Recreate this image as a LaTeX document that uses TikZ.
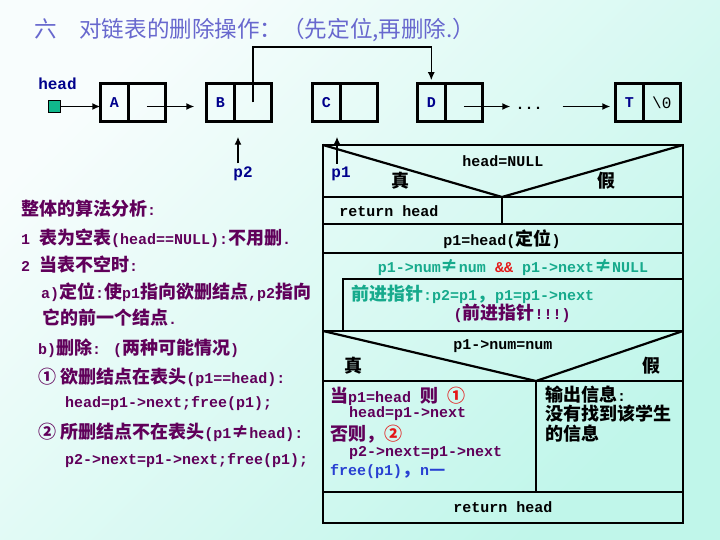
\documentclass[tikz,border=0pt]{standalone}
\usepackage{fontspec}
\setmainfont{Liberation Mono}
\newfontfamily\cjk[Scale=1.2]{Noto Sans CJK SC}
\usepackage{xcolor}
\definecolor{bgA}{RGB}{248,253,253}
\definecolor{bgB}{RGB}{192,246,234}
\definecolor{titleblue}{RGB}{104,104,206}
\definecolor{notepurple}{RGB}{96,0,90}
\definecolor{labelblue}{RGB}{0,0,140}
\definecolor{headgreen}{RGB}{16,184,140}
\definecolor{loopteal}{RGB}{22,170,140}
\definecolor{warnred}{RGB}{228,24,24}
\definecolor{freeblue}{RGB}{40,64,210}
\usetikzlibrary{arrows.meta,positioning}
\newcommand\basefont{\fontsize{15}{18}\selectfont}

\begin{document}
\begin{tikzpicture}[
  x=1pt, y=-1pt,
  font=\basefont,
  >={Latex[length=8pt,width=7pt]},
  datcell/.style={draw, line width=2.6pt, outer sep=0pt, inner sep=0pt, minimum width=28pt, minimum height=38.5pt, text=labelblue, font=\basefont\bfseries},
  ptrcell/.style={draw, line width=2.6pt, outer sep=0pt, inner sep=0pt, minimum width=37pt, minimum height=38.5pt, font=\fontsize{16}{18}\selectfont},
  arr/.style={->, line width=1.4pt},
  ptrlbl/.style={text=labelblue, font=\fontsize{16}{18}\selectfont\bfseries},
  note/.style={anchor=west, inner sep=0pt, text=notepurple, font=\basefont\bfseries},
  ns/.style={line width=2.2pt},
  nstext/.style={inner sep=0pt, font=\basefont\bfseries},
  nsline/.style={anchor=west, inner sep=0pt, font=\basefont\bfseries}
]
% background
\shade[top color=bgA, bottom color=bgB, shading angle=45] (0,0) rectangle (720,540);
\useasboundingbox (0,0) rectangle (720,540);

\node[anchor=west, inner sep=0pt, text=titleblue, font=\fontsize{18.8}{20}\selectfont] (title) at (34,30) {\cjk 六\quad 对链表的删除操作：（先定位,再删除.）};

% linked list
\node[draw, fill=headgreen, minimum size=12pt, inner sep=0pt, line width=0.8pt] (hd) at (54,106.5) {};
\node[ptrlbl] (hdlbl) at (57.5,84) {head};

\node[datcell] (A) at (114.3,102.5) {A};
\node[ptrcell, right=0pt of A] (An) {};
\node[datcell] (B) at (220.3,102.5) {B};
\node[ptrcell, right=0pt of B] (Bn) {};
\node[datcell] (C) at (326.3,102.5) {C};
\node[ptrcell, right=0pt of C] (Cn) {};
\node[datcell] (D) at (431.3,102.5) {D};
\node[ptrcell, right=0pt of D] (Dn) {};
\node[font=\basefont\bfseries, text height=10pt, text depth=3pt, inner sep=0pt] (dots) at (529,106.5) {...};
\node[datcell] (T) at (629.3,102.5) {T};
\node[ptrcell, right=0pt of T] (Tn) {\textbackslash 0};

\draw[arr] (hd) -- (hd -| A.west);
\draw[arr, shorten >=12pt] ([yshift=-4pt]An.center) -- ([yshift=-4pt]B.west);
\draw[arr, shorten >=3pt] (Bn.center) -- ++(0,-55.5) -| (D.north);
\draw[arr, shorten >=5pt] ([yshift=-4pt]Dn.center) -- (dots);
\draw[arr, shorten <=20pt, shorten >=5pt] (dots) -- (dots -| T.west);

\node[ptrlbl] (p2) at (243,174) {p2};
\node[ptrlbl] (p1) at (341,174) {p1};
\draw[arr, shorten >=15pt] ([xshift=-5pt]p2.north) -- ([xshift=-5pt]p2.north |- Bn.south);
\draw[arr, shorten >=15pt] ([xshift=-4pt]p1.north) -- ([xshift=-4pt]p1.north |- C.south);

% notes on the left
\node[note] (algo) at (21,209) {{\cjk 整体的算法分析}:};
\node[note] (step1) at (21,238) {1 {\cjk 表为空表}(head==NULL):{\cjk 不用删}.};
\node[note] (step2) at (21,265) {2 {\cjk 当表不空时}:};
\node[note] (locate) at (41,292) {a){\cjk 定位}:{\cjk 使}p1{\cjk 指向欲删结点},p2{\cjk 指向}};
\node[note] (locate2) at (42,318) {{\cjk 它的前一个结点}.};
\node[note] (delete) at (38,348) {b){\cjk 删除}: ({\cjk 两种可能情况})};
\node[note] (case1) at (38,377) {{\cjk ① 欲删结点在表头}(p1==head):};
\node[note] (code1) at (65,404) {head=p1->next;free(p1);};
\node[note] (case2) at (38,432) {{\cjk ② 所删结点不在表头}(p1{\cjk ≠}head):};
\node[note] (code2) at (65,461) {p2->next=p1->next;free(p1);};

% N-S chart
\draw[ns] (323,145) rectangle (683,523);
\draw[ns] (323,145) -- (502,197) -- (683,145);
\draw[ns] (323,197) -- (683,197);
\draw[ns] (502,197) -- (502,224);
\draw[ns] (323,224) -- (683,224);
\draw[ns] (323,253) -- (683,253);
\draw[ns] (343,331) |- (683,279);
\draw[ns] (323,331) -- (683,331);
\draw[ns] (323,331) -- (536,381) -- (683,331);
\draw[ns] (323,381) -- (683,381);
\draw[ns] (536,381) -- (536,492);
\draw[ns] (323,492) -- (683,492);

\node[nstext] (cond1) at (503,161) {head=NULL};
\node[nstext] (yes1) at (400,181) {\cjk 真};
\node[nstext] (no1) at (606,181) {\cjk 假};
\node[nstext] (ret1) at (389,211) {return head};
\node[nstext] (init) at (502,239) {p1=head({\cjk 定位})};
\node[nstext, text=loopteal] (loopc) at (513,267) {p1->num{\cjk ≠}num \textcolor{warnred}{\&\&} p1->next{\cjk ≠}NULL};
\node[nsline, text=loopteal] (step) at (351,294) {{\cjk 前进指针}:p2=p1{\cjk ，}p1=p1->next};
\node[nstext, text=notepurple] (hint) at (512,313) {({\cjk 前进指针}!!!)};
\node[nstext] (cond2) at (503,346) {p1->num=num};
\node[nstext] (yes2) at (353,366) {\cjk 真};
\node[nstext] (no2) at (651,366) {\cjk 假};

\node[nsline, text=notepurple] (f1) at (330,396) {{\cjk 当}p1=head {\cjk 则} \textcolor{warnred}{\cjk ①}};
\node[nsline, text=notepurple] (f2) at (349,414) {head=p1->next};
\node[nsline, text=notepurple] (f3) at (330,434) {{\cjk 否则，}\textcolor{warnred}{\cjk ②}};
\node[nsline, text=notepurple] (f4) at (349,453) {p2->next=p1->next};
\node[nsline, text=freeblue] (f5) at (330,472) {free(p1){\cjk ，}n{\cjk —}};

\node[nsline] (m1) at (545,395) {{\cjk 输出信息}:};
\node[nsline] (m2) at (545,414) {\cjk 没有找到该学生};
\node[nsline] (m3) at (545,434) {\cjk 的信息};

\node[nstext] (ret2) at (503,507) {return head};
\end{tikzpicture}
\end{document}
